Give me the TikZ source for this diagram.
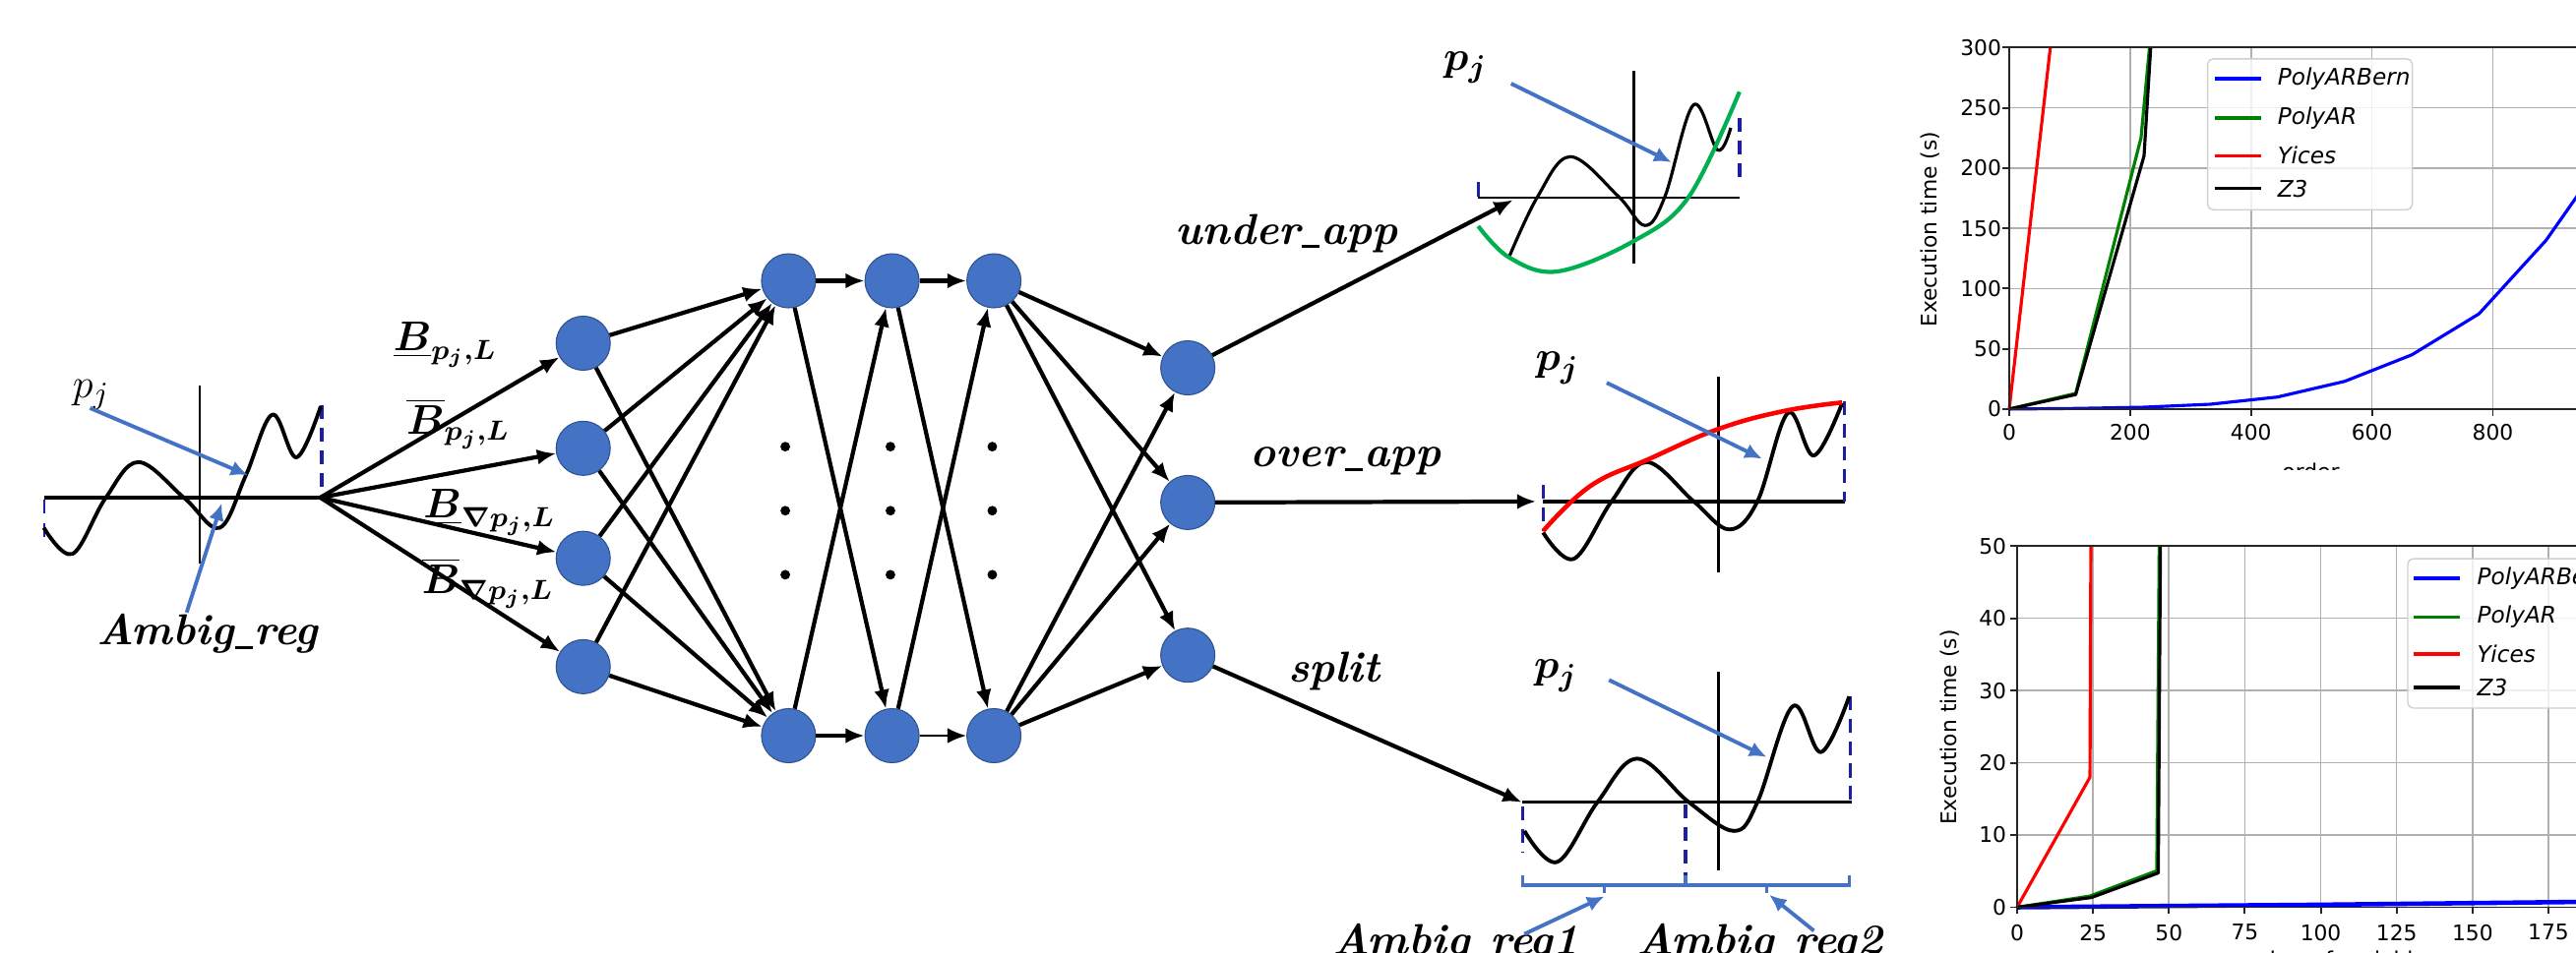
\documentclass[tikz,border=0pt]{standalone}
\usepackage{bm}
\usepackage{fontspec}
\newfontfamily\dvsans{DejaVu Sans}
\usetikzlibrary{arrows.meta}
\newcommand{\myus}{\kern0.03em\rule[-0.1em]{0.42em}{0.075em}\kern0.03em}
\definecolor{nodeblue}{RGB}{68,114,196}
\definecolor{nodeedge}{RGB}{47,82,143}
\definecolor{arrblue}{RGB}{68,114,196}
\definecolor{dashblue}{RGB}{30,30,160}
\definecolor{appgreen}{RGB}{0,176,80}
\definecolor{gridgray}{RGB}{176,176,176}
\definecolor{mplgreen}{RGB}{0,128,0}
\definecolor{mplblue}{RGB}{0,0,255}
\begin{document}
\begin{tikzpicture}[x=0.0167cm,y=-0.0167cm,
  neuron/.style={circle,fill=nodeblue,draw=nodeedge,line width=0.3pt,minimum size=0.55cm,inner sep=0pt},
  arr/.style={-{Latex[length=5.5pt,width=4.5pt]},line width=1.2pt,black},
  barr/.style={-{Latex[length=5pt,width=4.5pt]},line width=1.1pt,arrblue},
  fn/.style={line width=1.1pt,black,line join=round},
  axln/.style={line width=1pt,black},
  vdash/.style={dashblue,line width=1pt,dash pattern=on 4pt off 2.5pt},
  brace/.style={arrblue,line width=1pt},
  wlbl/.style={font=\fontsize{12.5}{14}\selectfont\bfseries\itshape,inner sep=0pt},
  mlbl/.style={font=\fontsize{13}{15}\selectfont,inner sep=0pt},
  blbl/.style={font=\fontsize{12}{14}\selectfont,inner sep=0pt},
  gridln/.style={gridgray,line width=0.45pt},
  spine/.style={black!85,line width=0.55pt},
  ticklbl/.style={font=\dvsans\fontsize{6.2}{7}\selectfont,inner sep=0pt},
  leglbl/.style={font=\dvsans\itshape\fontsize{6.6}{7.5}\selectfont,inner sep=0pt,anchor=west},
  cline/.style={line width=0.9pt,line join=round}
]
\useasboundingbox (0,0) rectangle (1568,580);
\clip (0,0) rectangle (1568,580);

% ---------- left input plot ----------
\draw[axln] (26.7,303) -- (195,303);
\draw[line width=0.8pt] (121.6,235) -- (121.6,343);
\draw[vdash] (196,247) -- (196,301);
\draw[dashblue,line width=0.6pt,dash pattern=on 4pt off 3pt] (26.7,304) -- (26.7,329);
\draw[fn] plot[smooth,tension=0.6] coordinates {(26.7,321.4) (44.1,337.3) (64.2,303.4) (84.2,281.4) (112.3,303.4) (133.7,321.4) (149.7,289.4) (165.8,252.5) (180.5,278.5) (195.2,247.5)};
\node[mlbl] (pjL) at (55.5,240.5) {$p_j$};
\coordinate (pjLs) at (54.8,248.5);
\coordinate (pjLe) at (151,289.4);
\draw[barr] (pjLs) -- (pjLe);
\node[wlbl] (ambL) at (126,386) {Ambig\myus reg};
\coordinate (ambLs) at (113.6,373);
\coordinate (ambLe) at (135,306.4);
\draw[barr] (ambLs) -- (ambLe);

% ---------- network ----------
\coordinate (fan) at (195,303);
\node[neuron] (a1) at (355,209) {};
\node[neuron] (a2) at (355,273) {};
\node[neuron] (a3) at (355,340) {};
\node[neuron] (a4) at (355,406) {};
\node[neuron] (b1) at (480,171) {};
\node[neuron] (b2) at (480,448) {};
\node[neuron] (c1) at (543,171) {};
\node[neuron] (c2) at (543,448) {};
\node[neuron] (d1) at (605,171) {};
\node[neuron] (d2) at (605,448) {};
\node[neuron] (o1) at (723,224) {};
\node[neuron] (o2) at (723,306) {};
\node[neuron] (o3) at (723,399) {};

\foreach \i in {1,...,4} {\draw[arr] (fan) -- (a\i);}
\foreach \i in {1,...,4} {\draw[arr] (a\i) -- (b1); \draw[arr] (a\i) -- (b2);}
\draw[arr] (b1) -- (c1); \draw[arr] (b1) -- (c2);
\draw[arr] (b2) -- (c1); \draw[arr] (b2) -- (c2);
\draw[arr] (c1) -- (d1); \draw[arr] (c1) -- (d2);
\draw[arr] (c2) -- (d1); \draw[arr,line width=0.7pt] (c2) -- (d2);
\foreach \j in {1,2,3} {\draw[arr] (d1) -- (o\j); \draw[arr] (d2) -- (o\j);}

\foreach \x in {478,542,604} {
  \foreach \y in {272,311,350} {\fill (\x,\y) circle[radius=1.4pt];}
}

\node[blbl] (lb1) at (271,210) {$\bm{\underline{B}_{p_j,L}}$};
\node[blbl] (lb2) at (279,258) {$\bm{\overline{B}_{p_j,L}}$};
\node[blbl] (lb3) at (298,312) {$\bm{\underline{B}_{\nabla p_j,L}}$};
\node[blbl] (lb4) at (297,355) {$\bm{\overline{B}_{\nabla p_j,L}}$};

% ---------- outputs ----------
\coordinate (tU) at (921,121.8);
\coordinate (tO) at (935,305.4);
\coordinate (tS) at (926.4,488.6);
\draw[arr] (o1) -- (tU);
\draw[arr] (o2) -- (tO);
\draw[arr] (o3) -- (tS);
\node[wlbl] (lu) at (783,142) {under\myus app};
\node[wlbl] (lo) at (819,281) {over\myus app};
\node[wlbl] (ls) at (812,409) {split};

% under_app plot
\draw[line width=0.8pt] (899.8,120.4) -- (1058.8,120.4);
\draw[line width=0.8pt] (994.6,42.9) -- (994.6,160.5);
\draw[dashblue,line width=1pt] (899.8,110.8) -- (899.8,119.8);
\draw[vdash] (1058.8,71.9) -- (1058.8,108.8);
\draw[fn,line width=0.9pt] plot[smooth,tension=0.6] coordinates {(918.5,156.7) (935.9,119.8) (955.9,95.4) (985.3,119.8) (1001.3,137.3) (1013.4,119.8) (1030.8,63.9) (1045.5,91.4) (1053.5,77.8)};
\draw[appgreen,line width=1.2pt] plot[smooth,tension=0.6] coordinates {(899.8,137.7) (918.5,156.7) (948,165.3) (994.6,146.7) (1028,119.8) (1058.8,55.9)};
\node[mlbl] (pjU) at (892,41) {$\bm{p_j}$};
\coordinate (pjUs) at (919.8,50.9);
\coordinate (pjUe) at (1017.4,98.8);
\draw[barr] (pjUs) -- (pjUe);

% over_app plot
\draw[axln] (939.3,305.4) -- (1122.7,305.4);
\draw[line width=0.8pt] (1046.2,229.5) -- (1046.2,348.3);
\draw[vdash] (939.3,295.4) -- (939.3,323.4);
\draw[vdash] (1122.7,244.5) -- (1122.7,305.4);
\draw[fn] plot[smooth,tension=0.6] coordinates {(939.3,324.3) (958,340.3) (980.9,305.4) (1002.3,281.4) (1031,305.4) (1052.5,322.4) (1069.7,305.4) (1088.3,251.5) (1104.1,277.4) (1121.3,245.5)};
\draw[red,line width=1.3pt] plot[smooth,tension=0.7] coordinates {(939.3,323.4) (968,296) (1003.8,279.5) (1045.3,261.5) (1085,250.5) (1121.3,245.1)};
\node[mlbl] (pjO) at (948,224) {$\bm{p_j}$};
\coordinate (pjOs) at (978,233.1);
\coordinate (pjOe) at (1072.6,279.4);
\draw[barr] (pjOs) -- (pjOe);

% split plot
\draw[line width=0.8pt] (926.4,488.6) -- (1127,488.6);
\draw[line width=0.8pt] (1046.2,409.1) -- (1046.2,529.9);
\draw[vdash] (926.9,491) -- (926.9,518.9);
\draw[vdash] (1026.1,490) -- (1026.1,534);
\draw[vdash] (1126.4,424) -- (1126.4,489);
\draw[fn] plot[smooth,tension=0.6] coordinates {(927.9,506) (947.9,524.9) (972.3,488.6) (996.6,462) (1028.1,488.6) (1055.4,506) (1069.7,488.6) (1091.2,430.1) (1108.4,458) (1125.6,424.1)};
\draw[brace] (926.9,532.9) -- (926.9,538.9) -- (1125.6,538.9) -- (1125.6,532.9);
\draw[brace] (1026.1,533) -- (1026.1,538.9);
\draw[brace] (976.6,538.9) -- (976.6,543.9);
\draw[brace] (1075.4,538.9) -- (1075.4,543.9);
\node[mlbl] (pjS) at (947,411.5) {$\bm{p_j}$};
\coordinate (pjSs) at (979.4,414.1);
\coordinate (pjSe) at (1075.4,461);
\draw[barr] (pjSs) -- (pjSe);
\node[wlbl,anchor=base] (amb1) at (886,581) {Ambig\myus reg1};
\node[wlbl,anchor=base] (amb2) at (1071,581) {Ambig\myus reg2};
\coordinate (amb1s) at (927.9,568.8);
\coordinate (amb1e) at (976.6,545.9);
\coordinate (amb2s) at (1104.1,566.8);
\coordinate (amb2e) at (1076.9,544.9);
\draw[barr] (amb1s) -- (amb1e);
\draw[barr] (amb2s) -- (amb2e);

% ---------- top chart ----------
\begin{scope}
\clip (1150,0) rectangle (1568,286);
\begin{scope}[shift={(1223,249.1)},xscale=0.368,yscale=-0.734]
  \foreach \x in {200,400,...,1000} {\draw[gridln] (\x,0) -- (\x,300);}
  \foreach \y in {50,100,...,250} {\draw[gridln] (0,\y) -- (1100,\y);}
  \foreach \y in {0,50,...,300} {\draw[spine] (0,\y) -- (-10.9,\y); \node[ticklbl,anchor=east] (ty\y) at (-12,\y) {\y};}
  \foreach \x in {0,200,...,800} {\draw[spine] (\x,0) -- (\x,-5.4); \node[ticklbl] (tx\x) at (\x,-19.6) {\x};}
  \draw[mplblue,cline] (0,0) -- (111,0.5) -- (222,1.5) -- (333,4) -- (444,10) -- (555,23) -- (666,45) -- (777,79) -- (888,140) -- (1000,220);
  \draw[mplgreen,cline] (0,0) -- (110,13) -- (218,225) -- (232,300);
  \draw[red,cline] (0,0) -- (68,300);
  \draw[black,cline] (0,0) -- (110,12) -- (223,210) -- (234,300);
  \draw[spine] (0,300) -- (0,0) -- (1100,0);
  \draw[spine] (0,300) -- (1100,300);
\end{scope}
\node[ticklbl,rotate=90] (ylt) at (1175,139.7) {Execution time (s)};
\node[ticklbl,anchor=base] (xlt) at (1406.6,292) {order};
\draw[gridgray!60,fill=white,fill opacity=0.8,rounded corners=1.5pt,line width=0.4pt] (1343.8,35.9) rectangle (1468.3,127.7);
\draw[mplblue,line width=1pt] (1348.3,47.9) -- (1376.3,47.9);
\draw[mplgreen,line width=1pt] (1348.3,71.9) -- (1376.3,71.9);
\draw[red,line width=1pt] (1348.3,94.8) -- (1376.3,94.8);
\draw[black,line width=1pt] (1348.3,114.8) -- (1376.3,114.8);
\node[leglbl] (lt1) at (1386,47.9) {PolyARBern};
\node[leglbl] (lt2) at (1386,71.9) {PolyAR};
\node[leglbl] (lt3) at (1386,94.8) {Yices};
\node[leglbl] (lt4) at (1386,114.8) {Z3};
\end{scope}

% ---------- bottom chart ----------
\begin{scope}
\clip (1150,300) rectangle (1568,580);
\begin{scope}[shift={(1227.8,552.5)},xscale=1.848,yscale=-4.4]
  \foreach \x in {25,50,...,200} {\draw[gridln] (\x,0) -- (\x,50);}
  \foreach \y in {10,20,...,40} {\draw[gridln] (0,\y) -- (220,\y);}
  \foreach \y in {0,10,...,50} {\draw[spine] (0,\y) -- (-2.2,\y); \node[ticklbl,anchor=east] (by\y) at (-3.3,\y) {\y};}
  \foreach \x in {0,25,...,175} {\draw[spine] (\x,0) -- (\x,-0.9); \node[ticklbl] (bx\x) at (\x,-3.5) {\x};}
  \draw[mplblue,line width=1.3pt] (0,0) -- (100,0.35) -- (220,0.9);
  \draw[mplgreen,cline] (0,0) -- (24,1.55) -- (46,5.05) -- (46.8,50);
  \draw[red,cline] (0,0) -- (24,18) -- (24.3,50);
  \draw[black,cline] (0,0) -- (24.5,1.35) -- (46.5,4.75) -- (47.2,50);
  \draw[spine] (0,50) -- (0,0) -- (220,0);
  \draw[spine] (0,50) -- (220,50);
\end{scope}
\node[ticklbl,rotate=90] (ylb) at (1187,443) {Execution time (s)};
\node[ticklbl,anchor=base] (xlb) at (1418,589) {number of variables};
\draw[gridgray!60,fill=white,fill opacity=0.8,rounded corners=1.5pt,line width=0.4pt] (1465.6,340.3) rectangle (1600,431.2);
\draw[mplblue,line width=1pt] (1469,352.3) -- (1497.6,352.3);
\draw[mplgreen,line width=1pt] (1469,375.7) -- (1497.6,375.7);
\draw[red,line width=1pt] (1469,398.2) -- (1497.6,398.2);
\draw[black,line width=1pt] (1469,418.6) -- (1497.6,418.6);
\node[leglbl] (lb1l) at (1507.5,352.3) {PolyARBern};
\node[leglbl] (lb2l) at (1507.5,375.7) {PolyAR};
\node[leglbl] (lb3l) at (1507.5,398.2) {Yices};
\node[leglbl] (lb4l) at (1507.5,418.6) {Z3};
\end{scope}
\end{tikzpicture}
\end{document}
